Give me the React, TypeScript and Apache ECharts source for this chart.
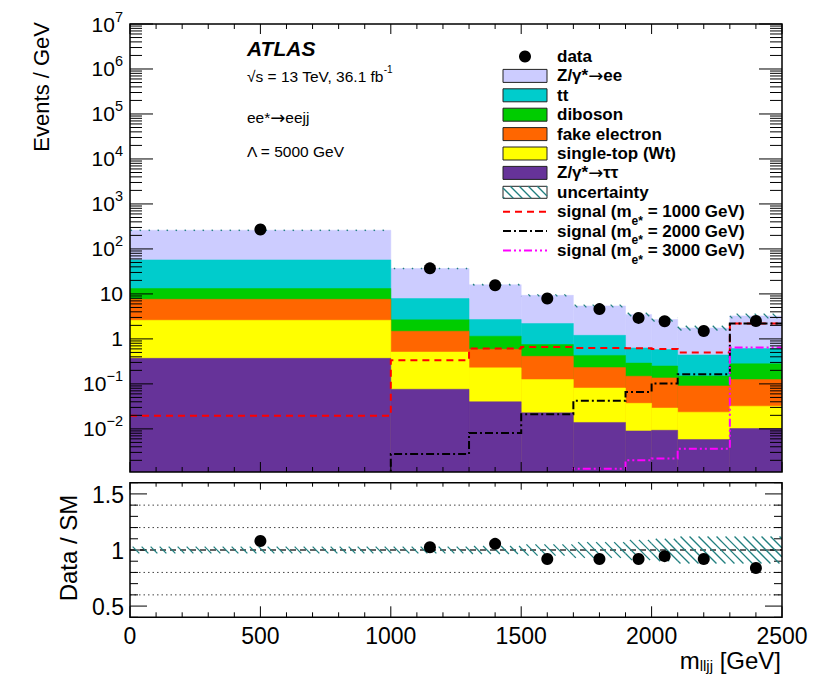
import React, { useEffect, useRef } from "react";
import * as echarts from "echarts";

// ---------------- data ----------------
const binEdges = [0, 1000, 1300, 1500, 1700, 1900, 2000, 2100, 2300, 2500];
const zTauTau = [0.37, 0.076, 0.04, 0.0227, 0.0139, 0.009, 0.0093, 0.0058, 0.0102];
const singleTop = [2.23, 0.434, 0.187, 0.1023, 0.0671, 0.028, 0.0197, 0.0177, 0.0218];
const fakeElectron = [5.0, 0.97, 0.363, 0.285, 0.149, 0.111, 0.107, 0.0665, 0.093];
const diboson = [5.6, 1.17, 0.56, 0.34, 0.2, 0.142, 0.114, 0.06, 0.155];
const ttbar = [43.8, 5.25, 1.55, 1.45, 0.77, 0.34, 0.33, 0.29, 0.33];
const zee = [203, 28.8, 13.3, 7.1, 4.2, 2.87, 2.12, 1.31, 2.64];
const relUncertainty = [0.03, 0.03, 0.035, 0.05, 0.07, 0.09, 0.1, 0.12, 0.12];
const signal1000 = [0.0195, 0.336, 0.61, 0.66, 0.63, 0.62, 0.6, 0.5, 2.2];
const signal2000 = [0.0004, 0.00275, 0.0081, 0.0212, 0.042, 0.066, 0.102, 0.164, 2.2];
const signal3000 = [0.0002, 0.0003, 0.0005, 0.0008, 0.0013, 0.002, 0.0022, 0.0036, 0.64];
const dataX = [500, 1150, 1400, 1600, 1800, 1950, 2050, 2200, 2400];
const dataEvents = [270, 37, 15.6, 7.9, 4.6, 2.93, 2.47, 1.5, 2.5];
const dataRatio = [1.08, 1.025, 1.055, 0.92, 0.92, 0.92, 0.945, 0.92, 0.84];
const xTickLabels = [0, 500, 1000, 1500, 2000, 2500];
const logExponents = [-2, -1, 0, 1, 2, 3, 4, 5, 6, 7];
const ratioTickLabels = [0.5, 1, 1.5];
const ratioDotted = [0.6, 0.8, 1.2, 1.4];
const ratioDashed = [1.0];

const legendLabels = [
  "data",
  "Z/γ*{arr|→}ee",
  "tt",
  "diboson",
  "fake electron",
  "single-top (Wt)",
  "Z/γ*{arr|→}ττ",
  "uncertainty",
  "signal (m{sub|e*} = 1000 GeV)",
  "signal (m{sub|e*} = 2000 GeV)",
  "signal (m{sub|e*} = 3000 GeV)",
];

// ---------------- style ----------------
const FONT = "'Liberation Sans', Arial, Helvetica, sans-serif";
const ARROW_FONT = "'DejaVu Sans', sans-serif";
const C_ZTT = "#663399";
const C_TOP = "#ffff00";
const C_FAKE = "#ff6600";
const C_DIB = "#00cc00";
const C_TT = "#00cccc";
const C_ZEE = "#ccccff";
const C_HATCH = "#217f7f";
const X_MIN = 0, X_MAX = 2500;
const Y_MIN = 0.0011, Y_MAX = 1e7;
const R_MIN = 0.4, R_MAX = 1.6;

const ln = (x1: number, y1: number, x2: number, y2: number, stroke = "#000", lw = 1, dash?: number[]) => ({
  type: "line",
  shape: { x1, y1, x2, y2 },
  style: { stroke, lineWidth: lw, lineDash: dash || null },
});

function hatchLines(X0: number, X1: number, Y0: number, Y1: number, spacing: number, stroke: string, lw: number) {
  const out: any[] = [];
  const cMin = X0 - Y1, cMax = X1 - Y0;
  const start = Math.ceil(cMin / spacing) * spacing;
  for (let c = start; c <= cMax; c += spacing) {
    const ya = Math.max(Y0, X0 - c);
    const yb = Math.min(Y1, X1 - c);
    if (yb <= ya) continue;
    out.push(ln(ya + c, ya, yb + c, yb, stroke, lw));
  }
  return out;
}

function supText(e: number) {
  if (e === 0) return "1";
  if (e === 1) return "10";
  return "10{sup|" + (e < 0 ? "−" + -e : String(e)) + "}";
}

// cumulative stack tops
const components = [zTauTau, singleTop, fakeElectron, diboson, ttbar, zee];
const compColors = [C_ZTT, C_TOP, C_FAKE, C_DIB, C_TT, C_ZEE];
const cumulative: number[][] = [];
components.forEach((comp, i) => {
  cumulative.push(comp.map((v, b) => (i === 0 ? v : cumulative[i - 1][b] + v)));
});
const totals = cumulative[cumulative.length - 1];

function stackSeries(tops: number[], color: string) {
  return {
    type: "custom",
    xAxisIndex: 0,
    yAxisIndex: 0,
    clip: true,
    z: 2,
    silent: true,
    data: tops.map((t, i) => [binEdges[i], binEdges[i + 1], t]),
    encode: { x: [0, 1], y: 2 },
    renderItem: (_p: any, api: any) => {
      const p0 = api.coord([api.value(0), api.value(2)]);
      const p1 = api.coord([api.value(1), Y_MIN]);
      return {
        type: "rect",
        shape: { x: p0[0], y: p0[1], width: p1[0] - p0[0], height: p1[1] - p0[1] },
        style: { fill: color, stroke: color, lineWidth: 0.5 },
      };
    },
  };
}

function signalSeries(vals: number[], color: string, dash: number[]) {
  return {
    type: "custom",
    xAxisIndex: 0,
    yAxisIndex: 0,
    clip: true,
    z: 3,
    silent: true,
    data: [[X_MIN, vals[0]]],
    renderItem: (_p: any, api: any) => {
      const yb = api.coord([X_MIN, Y_MIN])[1];
      const pts: number[][] = [];
      vals.forEach((v, i) => {
        const a = api.coord([binEdges[i], v]);
        const b = api.coord([binEdges[i + 1], v]);
        const y = Math.min(a[1], yb + 6);
        pts.push([a[0], y], [b[0], y]);
      });
      return {
        type: "polyline",
        shape: { points: pts },
        style: { fill: "none", stroke: color, lineWidth: 2, lineDash: dash },
      };
    },
  };
}

function hatchSeries(gridIdx: number, lo: number[], hi: number[]) {
  return {
    type: "custom",
    xAxisIndex: gridIdx,
    yAxisIndex: gridIdx,
    clip: true,
    z: 4,
    silent: true,
    data: lo.map((l, i) => [binEdges[i], binEdges[i + 1], l, hi[i]]),
    encode: { x: [0, 1], y: [2, 3] },
    renderItem: (_p: any, api: any) => {
      const a = api.coord([api.value(0), api.value(3)]);
      const b = api.coord([api.value(1), api.value(2)]);
      return { type: "group", children: hatchLines(a[0], b[0], a[1], b[1], 9, C_HATCH, 1.3) };
    },
  };
}

function upperAxes() {
  return {
    type: "custom",
    xAxisIndex: 0,
    yAxisIndex: 0,
    clip: false,
    z: 6,
    silent: true,
    data: [[X_MIN, 1]],
    renderItem: (_p: any, api: any) => {
      const ch: any[] = [];
      const [xl, yb] = api.coord([X_MIN, Y_MIN]);
      const [xr, yt] = api.coord([X_MAX, Y_MAX]);
      for (let v = X_MIN; v <= X_MAX; v += 100) {
        const px = api.coord([v, 1])[0];
        const len = v % 500 === 0 ? 10 : 5;
        ch.push(ln(px, yb, px, yb - len));
        ch.push(ln(px, yt, px, yt + len));
      }
      for (let e = -3; e <= 7; e++) {
        for (let m = 1; m <= 9; m++) {
          const v = m * Math.pow(10, e);
          if (v < Y_MIN || v > Y_MAX * 1.0001) continue;
          const py = api.coord([X_MIN, v])[1];
          const len = m === 1 ? 23 : 12;
          ch.push(ln(xl, py, xl + len, py));
          ch.push(ln(xr, py, xr - len, py));
        }
      }
      logExponents.forEach((e) => {
        const py = api.coord([X_MIN, Math.pow(10, e)])[1];
        ch.push({
          type: "text",
          x: xl - 7,
          y: py,
          style: {
            text: supText(e),
            fontSize: 21,
            fontFamily: FONT,
            fill: "#000",
            align: "right",
            verticalAlign: "middle",
            lineHeight: 30,
            rich: { sup: { fontSize: 14.5, fontFamily: FONT, lineHeight: 14, verticalAlign: "top", fill: "#000" } },
          },
        });
      });
      ch.push({
        type: "rect",
        shape: { x: xl, y: yt, width: xr - xl, height: yb - yt },
        style: { fill: "none", stroke: "#000", lineWidth: 1.5 },
      });
      return { type: "group", children: ch };
    },
  };
}

function ratioAxes() {
  return {
    type: "custom",
    xAxisIndex: 1,
    yAxisIndex: 1,
    clip: false,
    z: 1,
    silent: true,
    data: [[X_MIN, 1]],
    renderItem: (_p: any, api: any) => {
      const ch: any[] = [];
      const [xl, yb] = api.coord([X_MIN, R_MIN]);
      const [xr, yt] = api.coord([X_MAX, R_MAX]);
      ratioDotted.forEach((r) => {
        const py = api.coord([X_MIN, r])[1];
        ch.push(ln(xl, py, xr, py, "#444", 1, [1.5, 3]));
      });
      ratioDashed.forEach((r) => {
        const py = api.coord([X_MIN, r])[1];
        ch.push(ln(xl, py, xr, py, "#333", 1.5, [6, 4]));
      });
      for (let v = X_MIN; v <= X_MAX; v += 100) {
        const px = api.coord([v, 1])[0];
        const major = v % 500 === 0;
        ch.push(ln(px, yb, px, yb - (major ? 11 : 5)));
        ch.push(ln(px, yt, px, yt + (major ? 7 : 4)));
      }
      for (let k = 4; k <= 16; k++) {
        const r = k / 10;
        const py = api.coord([X_MIN, r])[1];
        const len = k % 5 === 0 ? 17 : 8;
        ch.push(ln(xl, py, xl + len, py));
        ch.push(ln(xr, py, xr - len, py));
      }
      ratioTickLabels.forEach((r) => {
        const py = api.coord([X_MIN, r])[1];
        ch.push({
          type: "text",
          x: xl - 6,
          y: py + 1,
          style: { text: String(r), fontSize: 23, fontFamily: FONT, fill: "#000", align: "right", verticalAlign: "middle" },
        });
      });
      xTickLabels.forEach((v) => {
        const px = api.coord([v, 1])[0];
        ch.push({
          type: "text",
          x: px,
          y: yb + 19,
          style: { text: String(v), fontSize: 23, fontFamily: FONT, fill: "#000", align: "center", verticalAlign: "middle" },
        });
      });
      return { type: "group", children: ch };
    },
  };
}

function ratioFrame() {
  return {
    type: "custom",
    xAxisIndex: 1,
    yAxisIndex: 1,
    clip: false,
    z: 6,
    silent: true,
    data: [[X_MIN, 1]],
    renderItem: (_p: any, api: any) => {
      const [xl, yb] = api.coord([X_MIN, R_MIN]);
      const [xr, yt] = api.coord([X_MAX, R_MAX]);
      return {
        type: "rect",
        shape: { x: xl, y: yt, width: xr - xl, height: yb - yt },
        style: { fill: "none", stroke: "#000", lineWidth: 1.5 },
      };
    },
  };
}

function buildLegend() {
  const els: any[] = [];
  const x0 = 503, w = 44, tx = 557;
  const rowY = (i: number) => 56.5 + 19.4 * i;
  const boxColors = [C_ZEE, C_TT, C_DIB, C_FAKE, C_TOP, C_ZTT];
  els.push({ type: "circle", shape: { cx: x0 + w / 2, cy: rowY(0), r: 6 }, style: { fill: "#000" } });
  boxColors.forEach((c, k) => {
    const y = rowY(k + 1);
    els.push({ type: "rect", shape: { x: x0, y: y - 6.5, width: w, height: 13 }, style: { fill: c, stroke: "#222", lineWidth: 1 } });
  });
  const uy = rowY(7);
  els.push({ type: "rect", shape: { x: x0, y: uy - 6, width: w, height: 12 }, style: { fill: "#fff", stroke: "#222", lineWidth: 1 } });
  hatchLines(x0, x0 + w, uy - 6, uy + 6, 9, C_HATCH, 1.3).forEach((l) => els.push(l));
  const sig = [
    ["#ff0000", [7, 5]],
    ["#000000", [8, 3, 2, 3]],
    ["#ff00ff", [8, 3, 2, 3, 2, 3]],
  ] as [string, number[]][];
  sig.forEach(([c, d], k) => {
    const y = rowY(8 + k);
    els.push({ type: "line", shape: { x1: x0, y1: y, x2: x0 + w, y2: y }, style: { stroke: c, lineWidth: 2, lineDash: d } });
  });
  legendLabels.forEach((t, i) => {
    els.push({
      type: "text",
      x: tx,
      y: rowY(i),
      style: {
        text: t,
        fontSize: 17,
        fontWeight: "bold",
        fontFamily: FONT,
        fill: "#000",
        align: "left",
        verticalAlign: "middle",
        lineHeight: 30,
        rich: {
          sub: { fontSize: 12, fontWeight: "bold", fontFamily: FONT, lineHeight: 12, verticalAlign: "bottom", fill: "#000" },
          arr: { fontSize: 18, fontFamily: ARROW_FONT, fill: "#000", lineHeight: 30 },
        },
      },
    });
  });
  return els;
}

function buildTexts() {
  const base = { fontFamily: FONT, fill: "#000", align: "left", verticalAlign: "middle" };
  return [
    { type: "text", x: 247, y: 48.5, style: { ...base, text: "ATLAS", fontSize: 21, fontWeight: "bold", fontStyle: "italic" } },
    {
      type: "text",
      x: 247,
      y: 76,
      style: {
        ...base,
        text: "√s = 13 TeV, 36.1 fb{sup|-1}",
        fontSize: 15.5,
        lineHeight: 24,
        rich: { sup: { fontSize: 10, fontFamily: FONT, lineHeight: 10, verticalAlign: "top", fill: "#000" } },
      },
    },
    {
      type: "text",
      x: 247,
      y: 117,
      style: {
        ...base,
        text: "ee*{arr|→}eejj",
        fontSize: 15.5,
        lineHeight: 24,
        rich: { arr: { fontSize: 18, fontFamily: ARROW_FONT, fill: "#000", lineHeight: 24 } },
      },
    },
    { type: "text", x: 247, y: 151, style: { ...base, text: "Λ = 5000 GeV", fontSize: 15.5 } },
    {
      type: "text",
      x: 41,
      y: 22,
      rotation: Math.PI / 2,
      style: { ...base, text: "Events / GeV", fontSize: 22, align: "right" },
    },
    {
      type: "text",
      x: 68,
      y: 548,
      rotation: Math.PI / 2,
      style: { ...base, text: "Data / SM", fontSize: 24, align: "center" },
    },
    {
      type: "text",
      x: 781,
      y: 660,
      style: {
        ...base,
        align: "right",
        text: "m{sub|lljj} [GeV]",
        fontSize: 24,
        lineHeight: 26,
        rich: { sub: { fontSize: 15, fontFamily: FONT, lineHeight: 14, verticalAlign: "bottom", fill: "#000" } },
      },
    },
  ];
}

export default function App() {
  const ref = useRef<HTMLDivElement>(null);
  useEffect(() => {
    if (!ref.current) return;
    const chart = echarts.init(ref.current, null, { renderer: "svg" });
    const series: any[] = [];
    for (let i = cumulative.length - 1; i >= 0; i--) series.push(stackSeries(cumulative[i], compColors[i]));
    series.push(signalSeries(signal1000, "#ff0000", [7, 5]));
    series.push(signalSeries(signal2000, "#000000", [8, 3, 2, 3]));
    series.push(signalSeries(signal3000, "#ff00ff", [8, 3, 2, 3, 2, 3]));
    series.push(
      hatchSeries(
        0,
        totals.map((t, i) => t * (1 - relUncertainty[i])),
        totals.map((t, i) => t * (1 + relUncertainty[i]))
      )
    );
    series.push({
      type: "scatter",
      xAxisIndex: 0,
      yAxisIndex: 0,
      z: 5,
      silent: true,
      symbolSize: 12,
      itemStyle: { color: "#000", opacity: 1 },
      data: dataX.map((x, i) => [x, dataEvents[i]]),
    });
    series.push(upperAxes());
    series.push(ratioAxes());
    series.push(
      hatchSeries(
        1,
        relUncertainty.map((u) => 1 - u),
        relUncertainty.map((u) => 1 + u)
      )
    );
    series.push({
      type: "scatter",
      xAxisIndex: 1,
      yAxisIndex: 1,
      z: 5,
      silent: true,
      symbolSize: 12,
      itemStyle: { color: "#000", opacity: 1 },
      data: dataX.map((x, i) => [x, dataRatio[i]]),
    });
    series.push(ratioFrame());

    chart.setOption({
      animation: false,
      backgroundColor: "#fff",
      grid: [
        { left: 130, top: 24, width: 652, height: 448, show: false },
        { left: 130, top: 482.7, width: 652, height: 134.6, show: false },
      ],
      xAxis: [
        { gridIndex: 0, type: "value", min: X_MIN, max: X_MAX, show: false },
        { gridIndex: 1, type: "value", min: X_MIN, max: X_MAX, show: false },
      ],
      yAxis: [
        { gridIndex: 0, type: "log", logBase: 10, min: Y_MIN, max: Y_MAX, show: false },
        { gridIndex: 1, type: "value", min: R_MIN, max: R_MAX, show: false },
      ],
      graphic: [...buildTexts(), ...buildLegend()],
      series,
    });
    return () => chart.dispose();
  }, []);
  return <div ref={ref} style={{ position: "absolute", left: 0, top: 0, width: 830, height: 683, background: "#fff" }} />;
}
